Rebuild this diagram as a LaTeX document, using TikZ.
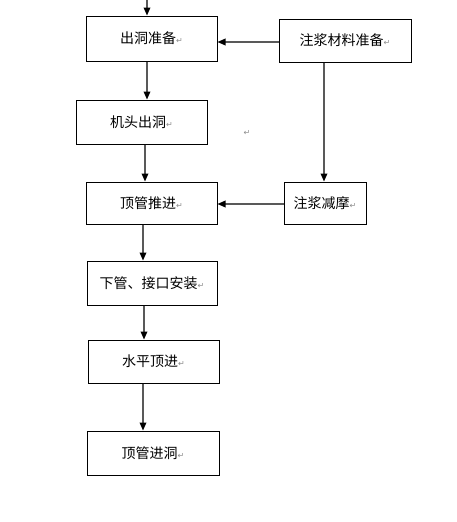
\documentclass[tikz,border=0pt]{standalone}
\usepackage{fontspec}
\newfontfamily\cjk{Noto Sans CJK SC}
\newfontfamily\symf{DejaVu Sans}
\usetikzlibrary{arrows.meta}
\newcommand{\pmark}{{\symf\fontsize{6}{6}\selectfont\textcolor{black!45}{↵}}}
\tikzset{
  box/.style={draw=black, line width=0.75pt, rectangle, inner sep=0pt, align=center,
    font=\cjk\fontsize{10.5}{12}\selectfont},
  arr/.style={draw=black!65, line width=0.9pt, -{Triangle[length=6pt,width=5pt,color=black]}}
}
\begin{document}
\begin{tikzpicture}[x=0.75pt,y=-0.75pt]
\useasboundingbox (0,0) rectangle (457,522);
\node[box, minimum width=98.25pt, minimum height=33.75pt] (A) at (151.5,38.5) {出洞准备\pmark};
\node[box, minimum width=99pt, minimum height=32.25pt] (B) at (345,40.5) {注浆材料准备\pmark};
\node[box, minimum width=98.25pt, minimum height=33pt] (C) at (141.5,122) {机头出洞\pmark};
\node[box, minimum width=98.25pt, minimum height=31.5pt] (D) at (151.5,203) {顶管推进\pmark};
\node[box, minimum width=61.5pt, minimum height=31.5pt] (E) at (325,203) {注浆减摩\pmark};
\node[box, minimum width=97.5pt, minimum height=33pt] (F) at (152,283) {下管、接口安装\pmark};
\node[box, minimum width=98.25pt, minimum height=32.25pt] (G) at (153.5,361.5) {水平顶进\pmark};
\node[box, minimum width=99pt, minimum height=33pt] (H) at (153,453) {顶管进洞\pmark};
\node[inner sep=0pt] (stray) at (247,133) {\pmark};
\coordinate (top) at (147,0);
\coordinate (x1) at (147,0);
\coordinate (x2) at (145,0);
\coordinate (x3) at (143,0);
\coordinate (x4) at (144,0);
\coordinate (x5) at (143,0);
\coordinate (xr) at (324,0);
\coordinate (y1) at (0,42);
\coordinate (y2) at (0,204);
\draw[arr] (top) -- (A.north -| top);
\draw[arr] (A.south -| x1) -- (C.north -| x1);
\draw[arr] (B.west |- y1) -- (A.east |- y1);
\draw[arr] (B.south -| xr) -- (E.north -| xr);
\draw[arr] (C.south -| x2) -- (D.north -| x2);
\draw[arr] (E.west |- y2) -- (D.east |- y2);
\draw[arr] (D.south -| x3) -- (F.north -| x3);
\draw[arr] (F.south -| x4) -- (G.north -| x4);
\draw[arr] (G.south -| x5) -- (H.north -| x5);
\end{tikzpicture}
\end{document}
